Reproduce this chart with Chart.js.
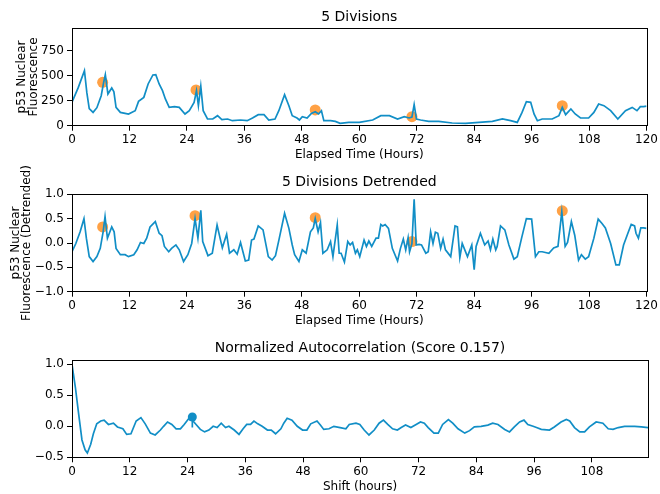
<!DOCTYPE html>
<html>
<head>
<meta charset="utf-8">
<script src="https://cdn.jsdelivr.net/npm/chart.js@4.4.1/dist/chart.umd.min.js"></script>
<style>
  html, body { margin: 0; padding: 0; background: #fff; }
  .panel { position: absolute; left: 0; width: 660px; }
</style>
</head>
<body>
<div class="panel" style="top:0;height:165px"><canvas id="rawChart"></canvas></div>
<div class="panel" style="top:165px;height:170px"><canvas id="detChart"></canvas></div>
<div class="panel" style="top:335px;height:159px"><canvas id="acfChart"></canvas></div>
<script>
// raw p53 trace (hours, fluorescence)
const rawHours = [0,1.3,2.6,3.1,3.6,4.4,5.2,6.1,6.6,6.96,7.5,8.3,8.75,9.2,10.1,11.8,13.2,13.9,15,15.9,16.9,17.5,18.2,18.9,19.5,20.3,21.4,22.4,23.6,24.5,25.5,26,26.4,26.9,27.4,28.3,29.4,30.4,31.3,32.5,33.5,35.2,36.6,37.7,38.9,40.1,41.1,42.4,43.2,44.4,45.3,46,47,47.5,48.1,49.1,50,50.8,51.5,52.1,52.6,54,55,56,57.8,60,62.8,64.5,66.3,68,69.4,70.4,71,71.46,71.94,72.8,74.5,76.6,79.4,82.2,85,87.8,89.9,91.6,93,94,94.9,95.8,96.5,97.2,98.2,100.3,101.7,102.4,103.1,104.2,105.1,106.2,107.9,109,110,111.1,112.5,114,115.6,117,118,118.7,119.4,120];
const rawSignal = [235,380,550,330,170,133,180,300,430,510,317,377,338,183,133,117,150,243,283,417,507,510,417,350,267,183,190,183,117,150,233,350,200,395,150,67,67,100,60,67,50,57,50,77,110,110,57,67,150,310,200,100,77,57,90,77,123,140,117,150,50,50,43,23,33,33,57,100,100,67,90,77,85,210,67,57,43,43,27,23,33,43,67,50,33,133,240,233,117,50,67,67,100,183,110,167,117,77,77,133,217,200,150,67,150,183,150,190,190,195];
const peakHours = [6.4,25.9,50.8,71,102.4];
const rawPeaks = [433,357,157,90,200];

// detrended trace
const detHours = [0,0.8,1.7,2.5,3,3.6,4.4,5.2,5.9,6.5,6.9,7.4,7.8,8.3,8.8,9.2,10.1,11.1,11.8,12.9,13.6,14.3,15,15.6,16.3,17.4,18.2,18.8,19.3,20.2,20.8,21.7,22.4,23.3,24.2,25,25.7,26.3,26.9,27.3,28.4,29.3,30.3,31.4,32.3,32.9,33.8,34.5,35.2,36.2,36.9,37.5,38,38.9,39.9,41,41.8,42.5,43.3,44.4,45.3,46,46.5,47.4,48.1,48.9,49.8,50.4,50.8,51.4,51.9,52.4,53.3,54,54.5,55.4,55.8,56.2,56.9,57.6,58.1,58.6,59.2,59.6,60.1,61,61.5,62,62.6,63.5,64,64.5,64.9,65.4,66.1,66.9,68,68.6,69.2,69.7,70.2,70.5,71,71.46,71.9,72.5,73,73.9,74.4,74.9,75.4,75.9,76.4,77,77.5,78,79.1,80,80.5,81,81.5,82.6,83.5,84,84.4,85.3,86.2,86.9,87.4,87.9,88.5,88.8,89.5,90.4,91.25,92.3,93,93.9,94.9,96,96.8,97.5,98.2,99.6,100.6,101.5,102.3,103,103.5,104.3,105,105.8,106.4,107.2,107.9,109,109.9,110.7,111.4,112.5,113.6,114.3,115.2,116.1,116.8,117.5,117.8,118.3,118.8,119.4,120];
const detSignal = [-0.18,-0.01,0.23,0.5,0.1,-0.28,-0.38,-0.28,-0.11,0.23,0.54,0.1,0.2,0.33,0.23,-0.11,-0.24,-0.24,-0.28,-0.24,-0.14,0.01,-0.01,0.1,0.33,0.44,0.2,0.15,-0.07,-0.18,-0.11,-0.04,-0.14,-0.38,-0.24,-0.01,0.5,0.1,0.67,0.03,-0.26,-0.21,0.37,-0.1,0.18,-0.21,-0.14,-0.23,0.01,-0.37,-0.35,0.06,0.08,0.35,0.27,-0.28,-0.35,-0.26,0.1,0.61,0.3,-0.04,-0.24,-0.38,-0.14,-0.21,0.23,0.31,0.5,0.23,0.42,-0.21,-0.14,0.03,-0.28,0.37,-0.21,-0.21,-0.39,0.03,-0.04,0.01,-0.21,-0.14,-0.28,0.06,-0.07,0.04,-0.07,0.1,0.1,0.38,0.35,0.38,0.3,-0.11,-0.37,-0.11,0.08,-0.14,0.11,-0.18,-0.01,0.9,-0.04,-0.03,-0.04,-0.21,-0.18,0.23,-0.01,0.22,0.2,-0.11,0.08,-0.14,-0.28,0.35,0.33,-0.3,-0.01,-0.28,-0.04,-0.55,-0.07,0.2,-0.04,0.04,-0.14,0.08,-0.14,-0.07,0.35,0.27,-0.04,-0.33,-0.28,0.1,0.5,0.49,-0.28,-0.18,-0.18,-0.21,-0.1,-0.07,0.64,-0.07,0.01,0.44,0.16,-0.35,-0.24,-0.33,-0.28,0.1,0.49,0.4,0.31,-0.01,-0.45,-0.45,-0.04,0.2,0.38,0.35,0.2,0.1,0.31,0.31,0.3];
const detPeakHours = [6.4,25.7,50.8,71,102.4];
const detPeaks = [0.33,0.56,0.52,0.03,0.66];

// autocorrelation
const acfShift = [0,0.7,1.38,2.07,2.72,3.19,3.89,4.44,5.14,5.97,6.67,7.57,8.61,9.44,10.57,11.36,12.25,13.33,14.32,15.21,16.29,17.28,18.37,19.03,19.85,20.74,21.63,22.52,23.31,24.19,25.0,25.87,26.66,27.55,28.44,29.33,30.15,31.0,31.9,32.6,33.7,34.7,35.55,36.3,37.1,37.8,38.6,39.5,40.6,41.4,42.3,43.4,44.0,44.7,45.7,46.8,47.9,48.8,49.6,50.9,51.6,52.3,53.4,54.4,55.7,56.9,57.6,59.0,59.8,60.7,61.7,62.8,63.8,64.7,65.6,66.6,67.6,68.4,69.3,70.4,71.5,72.4,73.2,74.0,75.2,76.1,77.0,78.2,79.1,80.2,81.6,82.6,83.6,85.0,86.4,87.4,88.5,89.9,90.9,91.9,93.0,93.9,94.7,95.8,96.5,97.5,99.2,100.2,101.6,102.7,103.4,104.4,105.5,106.5,107.5,108.9,110.3,111.4,112.4,113.5,114.8,116.9,118.3,119.67];
const acfValues = [1.0,0.63,0.2,-0.22,-0.38,-0.43,-0.29,-0.12,0.04,0.085,0.1,0.03,0.05,-0.01,-0.04,-0.13,-0.12,0.085,0.14,0.04,-0.11,-0.14,-0.06,0,0.07,0.03,-0.04,-0.04,0.03,0.12,0.1,0.02,-0.05,-0.09,-0.06,0,-0.02,0.05,-0.02,0,-0.06,-0.13,-0.04,0.03,0.03,0.085,0.04,0,-0.06,-0.06,-0.12,-0.04,0.05,0.13,0.1,0,-0.06,-0.06,0.04,0.085,0.02,-0.05,-0.04,0,-0.02,-0.04,0.03,0.05,0.03,-0.06,-0.14,-0.06,0.05,0.1,0.03,-0.04,-0.06,-0.02,0.02,-0.02,0.03,0.07,0.05,-0.02,-0.11,-0.11,0.03,0.11,0.05,-0.04,-0.11,-0.07,-0.01,0,0.02,0.05,0.03,-0.05,-0.09,-0.01,0.07,0.1,0.03,0,-0.02,-0.05,-0.06,-0.01,0.07,0.11,0.085,-0.02,-0.09,-0.09,-0.01,0.07,0.05,-0.04,-0.05,-0.02,0,0,-0.01,-0.02];
const acfPeakShift = [25.0];
const acfPeakValue = [0.15];
const acfStemBase = [-0.02];

const hourTicks = [0,12,24,36,48,60,72,84,96,108,120];
const shiftTicks = [0,12,24,36,48,60,72,84,96,108];
const rawTicks = [0,250,500,750];
const detTicks = [-1.0,-0.5,0.0,0.5,1.0];
const acfTicks = [-0.5,0.0,0.5,1.0];

const BLUE = '#118ec6';
const ORANGE = 'rgba(255,140,28,0.82)';

Chart.defaults.font.family = '"DejaVu Sans", sans-serif';
Chart.defaults.color = '#000';
Chart.defaults.animation = false;

const frame = {
  id: 'frame',
  afterDraw(chart) {
    const a = chart.chartArea, c = chart.ctx;
    c.save();
    c.strokeStyle = '#000';
    c.lineWidth = 1;
    c.strokeRect(Math.round(a.left) + 0.5, Math.round(a.top) + 0.5,
      Math.round(a.right - a.left), Math.round(a.bottom - a.top));
    c.restore();
  }
};

function pairs(xs, ys) {
  return xs.map((x, i) => ({ x: x, y: ys[i] }));
}

function fmt(v, dec) {
  return v.toFixed(dec).replace('-', '\u2212');
}

function panel(id, o) {
  new Chart(document.getElementById(id), {
    type: 'line',
    data: { datasets: o.datasets },
    options: {
      responsive: true,
      maintainAspectRatio: false,
      layout: { padding: { right: 12 } },
      plugins: {
        legend: { display: false },
        tooltip: { enabled: false },
        title: {
          display: true, text: o.title, fullSize: false, color: '#000',
          font: { size: 14, weight: 'normal' }, padding: o.titlePad
        }
      },
      scales: {
        x: {
          type: 'linear', min: 0, max: o.xMax,
          grid: { drawOnChartArea: false, color: '#000', tickLength: 5 },
          border: { display: false },
          afterBuildTicks: s => { s.ticks = o.xTicks.map(v => ({ value: v })); },
          afterFit: s => { s.height = o.xHeight; },
          ticks: { font: { size: 12 }, padding: 2, maxRotation: 0, autoSkip: false },
          title: { display: true, text: o.xLabel, font: { size: 12 }, padding: { top: 0, bottom: o.xTitlePad } }
        },
        y: {
          type: 'linear', min: o.yMin, max: o.yMax,
          grid: { drawOnChartArea: false, color: '#000', tickLength: 5 },
          border: { display: false },
          afterBuildTicks: s => { s.ticks = o.yTicks.map(v => ({ value: v })); },
          afterFit: s => { s.width = 72; },
          ticks: { font: { size: 12 }, padding: 3, autoSkip: false, callback: v => fmt(v, o.yDec) },
          title: o.yLabel
            ? { display: true, text: o.yLabel, font: { size: 12, lineHeight: 0.95 }, padding: { top: o.yTitlePad, bottom: 0 } }
            : { display: false }
        }
      }
    },
    plugins: [frame]
  });
}

function traceSet(data) {
  return { data: data, borderColor: BLUE, borderWidth: 1.7, pointRadius: 0, tension: 0, order: 1 };
}
function dotSet(data, color, r) {
  return { data: data, showLine: false, pointRadius: r, pointBackgroundColor: color, pointBorderWidth: 0, order: 2 };
}

panel('rawChart', {
  title: '5 Divisions', titlePad: { top: 8.5, bottom: 3.0 },
  xMax: 120, xTicks: hourTicks, xHeight: 39.3, xLabel: 'Elapsed Time (Hours)', xTitlePad: 2.8,
  yMin: 0, yMax: 973, yTicks: rawTicks, yDec: 0,
  yLabel: ['p53 Nuclear', 'Fluorescence'], yTitlePad: 16.3,
  datasets: [traceSet(pairs(rawHours, rawSignal)), dotSet(pairs(peakHours, rawPeaks), ORANGE, 5.5)]
});

panel('detChart', {
  title: '5 Divisions Detrended', titlePad: { top: 8.6, bottom: 3.9 },
  xMax: 120, xTicks: hourTicks, xHeight: 43.3, xLabel: 'Elapsed Time (Hours)', xTitlePad: 6.8,
  yMin: -1, yMax: 1, yTicks: detTicks, yDec: 1,
  yLabel: ['p53 Nuclear', 'Fluorescence (Detrended)'], yTitlePad: 9.8,
  datasets: [traceSet(pairs(detHours, detSignal)), dotSet(pairs(detPeakHours, detPeaks), ORANGE, 5.5)]
});

panel('acfChart', {
  title: 'Normalized Autocorrelation (Score 0.157)', titlePad: { top: 4.9, bottom: 3.3 },
  xMax: 119.67, xTicks: shiftTicks, xHeight: 36.7, xLabel: 'Shift (hours)', xTitlePad: 0,
  yMin: -0.5, yMax: 1.07, yTicks: acfTicks, yDec: 1,
  yLabel: null,
  datasets: [
    traceSet(pairs(acfShift, acfValues)),
    { data: [{ x: acfPeakShift[0], y: acfPeakValue[0] }, { x: acfPeakShift[0], y: acfStemBase[0] }],
      borderColor: BLUE, borderWidth: 1.7, pointRadius: 0, tension: 0, order: 1 },
    dotSet(pairs(acfPeakShift, acfPeakValue), BLUE, 4.5)
  ]
});
</script>
</body>
</html>
